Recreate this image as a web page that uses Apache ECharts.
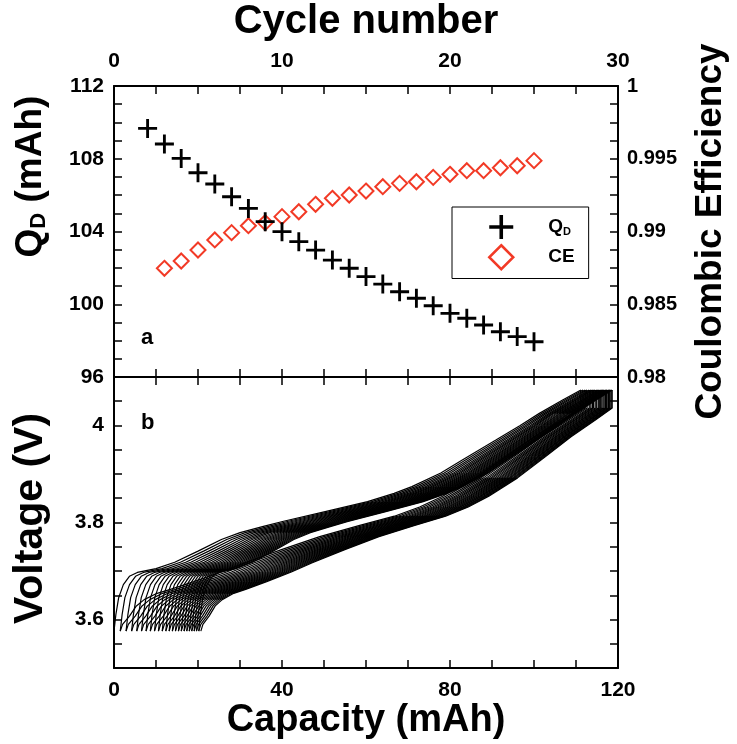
<!DOCTYPE html>
<html><head><meta charset="utf-8">
<script src="https://cdn.jsdelivr.net/npm/echarts@6/dist/echarts.min.js"></script>
<style>html,body{margin:0;padding:0;background:#fff}#c{width:737px;height:744px}</style>
</head><body><div id="c"></div><script>
// ---- Panel a data ----
const qdCycles = [2,3,4,5,6,7,8,9,10,11,12,13,14,15,16,17,18,19,20,21,22,23,24,25];
const qdValues = [109.67,108.81,108.02,107.23,106.61,105.91,105.27,104.54,103.99,103.44,102.98,102.43,101.98,101.52,101.11,100.69,100.33,99.92,99.50,99.23,98.86,98.49,98.22,97.94];
const ceCycles = [3,4,5,6,7,8,9,10,11,12,13,14,15,16,17,18,19,20,21,22,23,24,25];
const ceValues = [0.98747,0.98797,0.98873,0.98942,0.98992,0.99040,0.99061,0.99102,0.99136,0.99187,0.99228,0.99251,0.99278,0.99308,0.99331,0.99342,0.99372,0.99393,0.99418,0.99418,0.99438,0.99452,0.99487];
const cycle2CE = 0.9866; // estimated (not plotted)
// ---- Panel b: voltage-curve shapes ----
const chargeFrac = [0,0.004,0.01,0.02,0.033,0.05,0.09,0.13,0.18,0.23,0.27,0.32,0.361,0.45,0.543,0.60,0.638,0.70,0.746,0.818,0.87,0.911,0.96,1.0];
const chargeV    = [3.576,3.61,3.645,3.672,3.689,3.697,3.705,3.718,3.741,3.765,3.779,3.792,3.802,3.822,3.843,3.860,3.874,3.902,3.929,3.970,4.000,4.025,4.052,4.073];
const dischargeFrac = [0,0.005,0.02,0.035,0.052,0.08,0.109,0.16,0.22,0.271,0.35,0.433,0.52,0.595,0.65,0.70,0.77,0.838,0.9,0.96,1.0];
const dischargeV    = [3.576,3.59,3.607,3.628,3.641,3.654,3.662,3.678,3.698,3.717,3.744,3.771,3.794,3.813,3.832,3.854,3.892,3.936,3.977,4.012,4.036];
// tick labels
const cycleLabels = [0,10,20,30];
const qdLabels = [96,100,104,108,112];
const ceLabels = [0.98,0.985,0.99,0.995,1];
const capLabels = [0,40,80,120];
const vLabels = [3.6,3.8,4];

const FONT = 'Liberation Sans';
const RED = '#f23a26';
const PLUS = 'path://M8.5,0H11.5V8.5H20V11.5H11.5V20H8.5V11.5H0V8.5H8.5Z';
const has = (arr, v) => arr.some(a => Math.abs(a - v) < 1e-7);
const fmt = v => String(Number(v.toFixed(4)));

// build voltage curves (charge then discharge for each cycle, slipping right)
const curveSeries = [];
let start = 0;
qdCycles.forEach((cyc, i) => {
  const qd = qdValues[i];
  const ci = ceCycles.indexOf(cyc);
  const ce = ci >= 0 ? ceValues[ci] : cycle2CE;
  const qc = qd / ce;
  const ch = chargeFrac.map((f, k) => [start + f * qc, chargeV[k]]);
  const leftEnd = start + qc - qd;
  const dis = [[start + qc, chargeV[chargeV.length - 1]]];
  for (let k = dischargeFrac.length - 1; k >= 0; k--) dis.push([leftEnd + dischargeFrac[k] * qd, dischargeV[k]]);
  const common = {type:'line', xAxisIndex:2, yAxisIndex:2, showSymbol:false, silent:true, animation:false,
    lineStyle:{color:'#000', width:1.2}, z:1};
  curveSeries.push(Object.assign({data: ch}, common));
  curveSeries.push(Object.assign({data: dis}, common));
  start = leftEnd;
});

const axLine = {show:true, onZero:false, lineStyle:{color:'#000', width:2}};
const tick = {show:true, inside:true, length:8, lineStyle:{color:'#000', width:1.5}};
const lbl = {fontFamily:FONT, fontWeight:'bold', fontSize:21, color:'#000'};
const nameStyle = {fontFamily:FONT, fontWeight:'bold', fontSize:37, color:'#000'};

const chart = echarts.init(document.getElementById('c'));
chart.setOption({
  backgroundColor:'#fff',
  animation:false,
  grid:[
    {left:114, top:86, width:504, height:291},
    {left:114, top:377, width:504, height:291}
  ],
  xAxis:[
    {gridIndex:0, type:'value', position:'top', min:0, max:30, interval:2.5,
     axisLine:axLine, axisTick:tick, splitLine:{show:false},
     axisLabel:Object.assign({margin:14, formatter:v => has(cycleLabels, v) ? fmt(v) : ''}, lbl),
     name:'Cycle number', nameLocation:'middle', nameGap:44,
     nameTextStyle:Object.assign({}, nameStyle, {fontSize:40})},
    {gridIndex:0, type:'value', position:'bottom', min:0, max:30, interval:2.5,
     axisLine:axLine, axisTick:tick, splitLine:{show:false}, axisLabel:{show:false}},
    {gridIndex:1, type:'value', position:'bottom', min:0, max:120, interval:10,
     axisLine:axLine, axisTick:tick, splitLine:{show:false},
     axisLabel:Object.assign({margin:12, formatter:v => has(capLabels, v) ? fmt(v) : ''}, lbl),
     name:'Capacity (mAh)', nameLocation:'middle', nameGap:33,
     nameTextStyle:Object.assign({}, nameStyle, {fontSize:38})},
    {gridIndex:1, type:'value', position:'top', min:0, max:120, interval:10,
     axisLine:axLine, axisTick:tick, splitLine:{show:false}, axisLabel:{show:false}}
  ],
  yAxis:[
    {gridIndex:0, type:'value', position:'left', min:96, max:112, interval:1,
     axisLine:axLine, axisTick:tick, splitLine:{show:false},
     axisLabel:Object.assign({margin:10, formatter:v => has(qdLabels, v) ? fmt(v) : ''}, lbl),
     name:'{q|Q}{d|D}{q| (mAh)}', nameLocation:'middle', nameGap:64, nameRotate:90,
     nameTextStyle:Object.assign({}, nameStyle, {padding:[0,0,0,110], rich:{
       q:{fontFamily:FONT, fontWeight:'bold', fontSize:37, color:'#000'},
       d:{fontFamily:FONT, fontWeight:'bold', fontSize:22, color:'#000', padding:[16,0,0,0]}}})},
    {gridIndex:0, type:'value', position:'right', min:0.98, max:1, interval:0.00125,
     axisLine:axLine, axisTick:tick, splitLine:{show:false},
     axisLabel:Object.assign({margin:9, formatter:v => has(ceLabels, v) ? fmt(v) : ''}, lbl, {fontSize:20}),
     name:'Coulombic Efficiency', nameLocation:'middle', nameGap:74, nameRotate:90, nameTextStyle:nameStyle},
    {gridIndex:1, type:'value', position:'left', min:3.5, max:4.1, interval:0.05,
     axisLine:axLine, axisTick:tick, splitLine:{show:false},
     axisLabel:Object.assign({margin:10, formatter:v => has(vLabels, v) ? fmt(v) : ''}, lbl),
     name:'Voltage (V)', nameLocation:'middle', nameGap:63, nameRotate:90,
     nameTextStyle:Object.assign({}, nameStyle, {fontSize:41, padding:[0,0,0,8]})},
    {gridIndex:1, type:'value', position:'right', min:3.5, max:4.1, interval:0.05,
     axisLine:axLine, axisTick:tick, splitLine:{show:false}, axisLabel:{show:false}}
  ],
  legend:{
    left:452, top:207, orient:'vertical', padding:[8,14,8,36],
    itemWidth:24, itemHeight:24, itemGap:5,
    borderColor:'#000', borderWidth:1, backgroundColor:'#fff',
    data:[
      {name:'Q_D', icon:PLUS, itemStyle:{color:'#000', borderWidth:0, opacity:1}},
      {name:'CE', icon:'diamond', itemStyle:{color:'rgba(0,0,0,0)', borderColor:RED, borderWidth:2.5, opacity:1}}
    ],
    formatter: n => n === 'Q_D' ? '{q|Q}{d|D}' : '{q|CE}',
    textStyle:{rich:{
      q:{fontFamily:FONT, fontWeight:'bold', fontSize:19, color:'#000'},
      d:{fontFamily:FONT, fontWeight:'bold', fontSize:11, color:'#000', padding:[9,0,0,0]}
    }, padding:[0,0,0,30]}
  },
  graphic:[
    {type:'text', left:141, top:327, style:{text:'a', fontFamily:FONT, fontWeight:'bold', fontSize:22, fill:'#000'}},
    {type:'text', left:141, top:412, style:{text:'b', fontFamily:FONT, fontWeight:'bold', fontSize:22, fill:'#000'}}
  ],
  series:[
    {name:'CE', type:'scatter', xAxisIndex:0, yAxisIndex:1, symbol:'diamond', symbolSize:15,
     itemStyle:{color:'rgba(0,0,0,0)', borderColor:RED, borderWidth:2, opacity:1},
     data: ceCycles.map((c, i) => [c, ceValues[i]]), z:3},
    {name:'Q_D', type:'scatter', xAxisIndex:0, yAxisIndex:0, symbol:PLUS, symbolSize:19,
     itemStyle:{color:'#000', opacity:1},
     data: qdCycles.map((c, i) => [c, qdValues[i]]), z:4}
  ].concat(curveSeries)
});
</script></body></html>
